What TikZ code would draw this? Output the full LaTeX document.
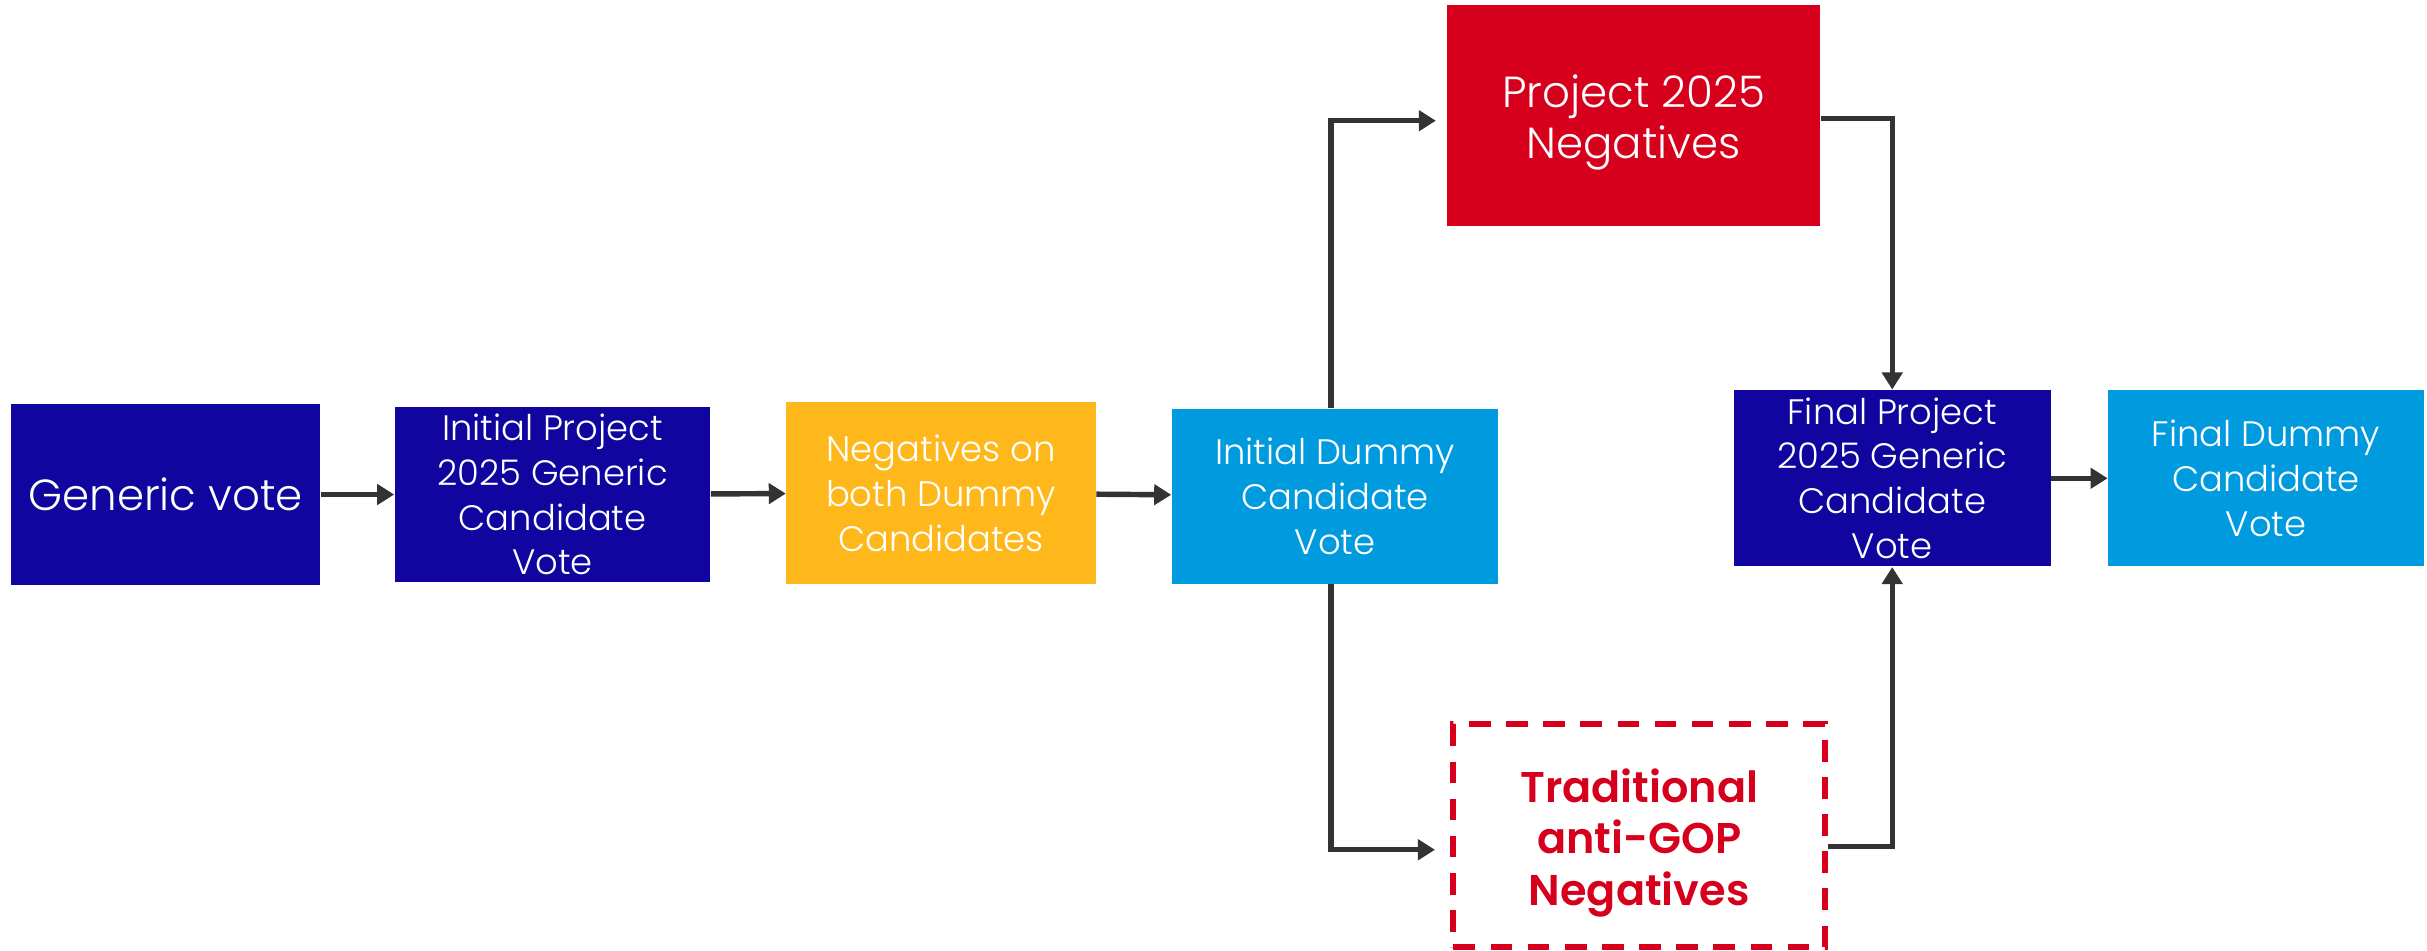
\documentclass[tikz,border=0pt]{standalone}
\usepackage{fontspec}
\setmainfont{Poppins}[UprightFont={* Light},BoldFont={* SemiBold}]
\usetikzlibrary{arrows.meta}
\definecolor{navy}{HTML}{10069F}
\definecolor{amber}{HTML}{FFB81C}
\definecolor{sky}{HTML}{009ADE}
\definecolor{scarlet}{HTML}{D6001C}
\definecolor{ink}{HTML}{333333}
\newcommand{\lowered}[1]{\raisebox{-0.1cm}[\height][\depth]{\begin{tabular}{@{}c@{}}#1\end{tabular}}}
\tikzset{
    stage/.style={rectangle,inner sep=0pt,align=center,text=white,
        font=\fontsize{13}{16.5}\selectfont},
    flow/.style={draw=ink,line width=2pt,-{Triangle[length=0.22cm,width=0.26cm]}},
}
\begin{document}
\begin{tikzpicture}[x=0.02cm,y=-0.02cm]
                \useasboundingbox (0,0) rectangle (1568,614);
                \node[stage,fill=navy,minimum width=4cm,minimum height=2.34cm,font=\fontsize{16}{19}\selectfont] (gen) at (107,319.5) {Generic vote};
                \node[stage,fill=navy,minimum width=4.08cm,minimum height=2.26cm] (init) at (357,319.5) {Initial Project\\2025 Generic\\Candidate\\Vote};
                \node[stage,fill=amber,minimum width=4cm,minimum height=2.34cm] (neg) at (608,318.5) {Negatives on\\both Dummy\\Candidates};
                \node[stage,fill=sky,minimum width=4.22cm,minimum height=2.26cm] (idum) at (862.5,320.5) {Initial Dummy\\Candidate\\Vote};
                \node[stage,fill=scarlet,minimum width=4.82cm,minimum height=2.86cm,font=\fontsize{16}{18.5}\selectfont] (p25) at (1055.5,74.5) {\lowered{Project 2025\\Negatives}};
                \node[stage,draw=scarlet,line width=2.2pt,dash pattern=on 0.28cm off 0.2cm,text=scarlet,minimum width=4.8cm,minimum height=2.88cm,font=\bfseries\fontsize{15.8}{19}\selectfont] (trad) at (1059,540) {\lowered{Traditional\\anti-GOP\\Negatives}};
                \node[stage,fill=navy,minimum width=4.1cm,minimum height=2.28cm] (fproj) at (1222.5,309) {Final Project\\2025 Generic\\Candidate\\Vote};
                \node[stage,fill=sky,minimum width=4.08cm,minimum height=2.28cm] (fdum) at (1464,309) {Final Dummy\\Candidate\\Vote};
                \draw[flow] (gen) -- (init);
                \draw[flow] (init) -- (neg);
                \draw[flow] (neg) -- (idum);
                \draw[flow,shorten >=0.14cm] ([xshift=-0.05cm]idum.north) |- ([yshift=-0.07cm]p25.west);
                \draw[flow] ([yshift=-0.04cm]p25.east) -| (fproj.north);
                \draw[flow,shorten >=0.2cm] ([xshift=-0.05cm]idum.south) |- ([yshift=-0.18cm]trad.west);
                \draw[flow] ([yshift=-0.14cm]trad.east) -| (fproj.south);
                \draw[flow] (fproj) -- (fdum);
            \end{tikzpicture}
\end{document}
